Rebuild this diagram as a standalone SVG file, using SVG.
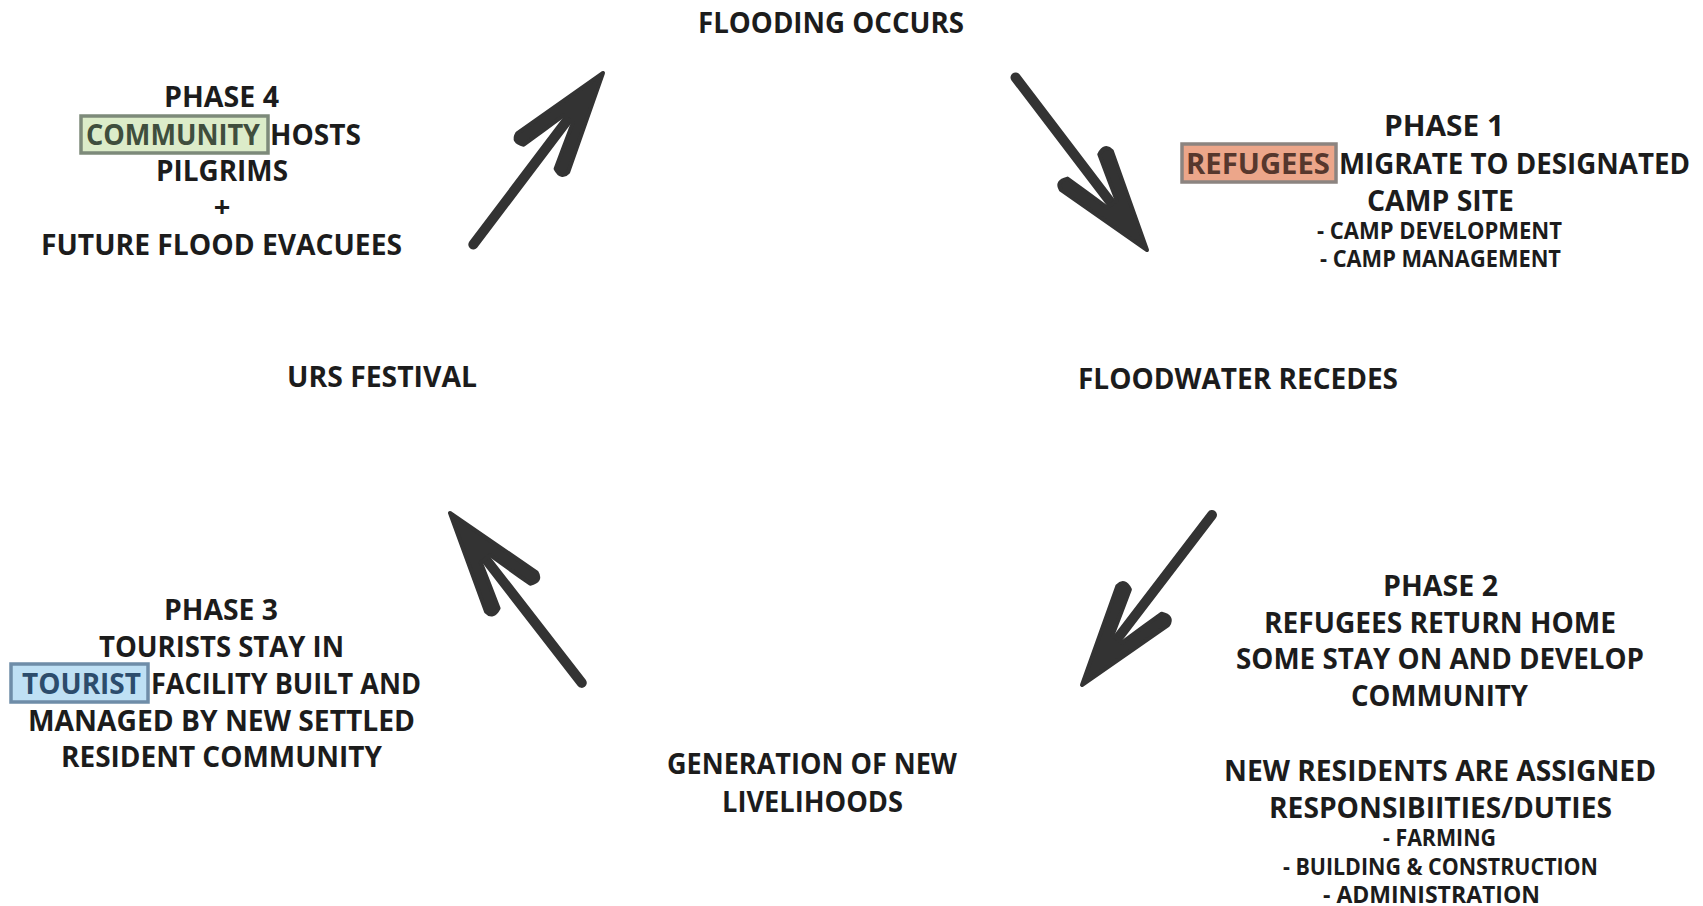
<svg xmlns="http://www.w3.org/2000/svg" width="1703" height="906" viewBox="0 0 1703 906">
<style>
.t{font-family:"Open Sans","Liberation Sans",sans-serif;font-weight:700;font-size:29px;fill:#1c1c1c}
.s{font-size:23px}
.m{text-anchor:middle}
.hl-g{fill:#dcecc9;stroke:#7d8a7a;stroke-width:3.5}
.hl-r{fill:#eca68a;stroke:#8c8480;stroke-width:3.5}
.hl-b{fill:#bfe0f4;stroke:#6f8da8;stroke-width:3.5}
.tg{fill:#3f4e3d}
.tr{fill:#56372d}
.tb{fill:#2c4c6c}
.head{fill:#333;stroke:#333;stroke-width:4;stroke-linejoin:round}
.shaft{stroke:#333;stroke-width:10;stroke-linecap:round;fill:none}
</style>
<defs>
<path id="ah" class="head" d="M0,0 Q-50,-16 -100,-32 Q-110,-31 -105,-20 Q-82,-13 -58,-6 L-58,6 Q-82,13 -105,20 Q-110,31 -100,32 Q-50,16 0,0 Z"/>
</defs>
<rect width="1703" height="906" fill="#ffffff"/>

<g id="connectors">
  <g id="arrow-to-flooding" transform="translate(603,73) rotate(-52.9)">
    <line class="shaft" x1="-215" y1="0" x2="-50" y2="0"/>
    <use href="#ah"/>
  </g>
  <g id="arrow-to-phase1" transform="translate(1147,250) rotate(52.7)">
    <line class="shaft" x1="-217" y1="0" x2="-50" y2="0"/>
    <use href="#ah"/>
  </g>
  <g id="arrow-to-phase2" transform="translate(1082,685) rotate(127.4)">
    <line class="shaft" x1="-214" y1="0" x2="-50" y2="0"/>
    <use href="#ah"/>
  </g>
  <g id="arrow-to-phase3" transform="translate(450,513) rotate(-127.8)">
    <line class="shaft" x1="-215" y1="0" x2="-50" y2="0"/>
    <use href="#ah"/>
  </g>
</g>

<g id="flooding-occurs">
  <text class="t" x="698" y="33" textLength="266" lengthAdjust="spacingAndGlyphs">FLOODING OCCURS</text>
</g>

<g id="phase4">
  <text class="t" x="164" y="107" textLength="115" lengthAdjust="spacingAndGlyphs">PHASE 4</text>
  <rect class="hl-g" x="81" y="116" width="187" height="37"/>
  <text class="t tg" x="86" y="145" textLength="174" lengthAdjust="spacingAndGlyphs">COMMUNITY</text>
  <text class="t" x="270" y="145" textLength="91" lengthAdjust="spacingAndGlyphs">HOSTS</text>
  <text class="t" x="156" y="181" textLength="132" lengthAdjust="spacingAndGlyphs">PILGRIMS</text>
  <text class="t m" x="222" y="217">+</text>
  <text class="t" x="41" y="255" textLength="361" lengthAdjust="spacingAndGlyphs">FUTURE FLOOD EVACUEES</text>
</g>

<g id="phase1">
  <text class="t" x="1384" y="136" textLength="120" lengthAdjust="spacingAndGlyphs">PHASE 1</text>
  <rect class="hl-r" x="1182" y="144" width="154" height="38"/>
  <text class="t tr" x="1186" y="174" textLength="144" lengthAdjust="spacingAndGlyphs">REFUGEES</text>
  <text class="t" x="1339" y="174" textLength="351" lengthAdjust="spacingAndGlyphs">MIGRATE TO DESIGNATED</text>
  <text class="t" x="1367" y="211" textLength="147" lengthAdjust="spacingAndGlyphs">CAMP SITE</text>
  <text class="t s" x="1317" y="239" textLength="245" lengthAdjust="spacingAndGlyphs">- CAMP DEVELOPMENT</text>
  <text class="t s" x="1320" y="267" textLength="241" lengthAdjust="spacingAndGlyphs">- CAMP MANAGEMENT</text>
</g>

<g id="urs-festival">
  <text class="t" x="287" y="387" textLength="190" lengthAdjust="spacingAndGlyphs">URS FESTIVAL</text>
</g>

<g id="floodwater-recedes">
  <text class="t" x="1078" y="389" textLength="320" lengthAdjust="spacingAndGlyphs">FLOODWATER RECEDES</text>
</g>

<g id="phase3">
  <text class="t" x="164" y="620" textLength="114" lengthAdjust="spacingAndGlyphs">PHASE 3</text>
  <text class="t" x="99" y="657" textLength="245" lengthAdjust="spacingAndGlyphs">TOURISTS STAY IN</text>
  <rect class="hl-b" x="11" y="664" width="137" height="38"/>
  <text class="t tb" x="22" y="694" textLength="119" lengthAdjust="spacingAndGlyphs">TOURIST</text>
  <text class="t" x="151" y="694" textLength="270" lengthAdjust="spacingAndGlyphs">FACILITY BUILT AND</text>
  <text class="t" x="28" y="731" textLength="387" lengthAdjust="spacingAndGlyphs">MANAGED BY NEW SETTLED</text>
  <text class="t" x="61" y="767" textLength="321" lengthAdjust="spacingAndGlyphs">RESIDENT COMMUNITY</text>
</g>

<g id="generation">
  <text class="t" x="667" y="774" textLength="290" lengthAdjust="spacingAndGlyphs">GENERATION OF NEW</text>
  <text class="t" x="722" y="812" textLength="181" lengthAdjust="spacingAndGlyphs">LIVELIHOODS</text>
</g>

<g id="phase2">
  <text class="t" x="1383" y="596" textLength="115" lengthAdjust="spacingAndGlyphs">PHASE 2</text>
  <text class="t" x="1264" y="633" textLength="352" lengthAdjust="spacingAndGlyphs">REFUGEES RETURN HOME</text>
  <text class="t" x="1236" y="669" textLength="408" lengthAdjust="spacingAndGlyphs">SOME STAY ON AND DEVELOP</text>
  <text class="t" x="1351" y="706" textLength="177" lengthAdjust="spacingAndGlyphs">COMMUNITY</text>
  <text class="t" x="1224" y="781" textLength="432" lengthAdjust="spacingAndGlyphs">NEW RESIDENTS ARE ASSIGNED</text>
  <text class="t" x="1269" y="818" textLength="343" lengthAdjust="spacingAndGlyphs">RESPONSIBIITIES/DUTIES</text>
  <text class="t s" x="1383" y="846" textLength="113" lengthAdjust="spacingAndGlyphs">- FARMING</text>
  <text class="t s" x="1283" y="875" textLength="315" lengthAdjust="spacingAndGlyphs">- BUILDING &amp; CONSTRUCTION</text>
  <text class="t s" x="1323" y="903" textLength="217" lengthAdjust="spacingAndGlyphs">- ADMINISTRATION</text>
</g>
</svg>
